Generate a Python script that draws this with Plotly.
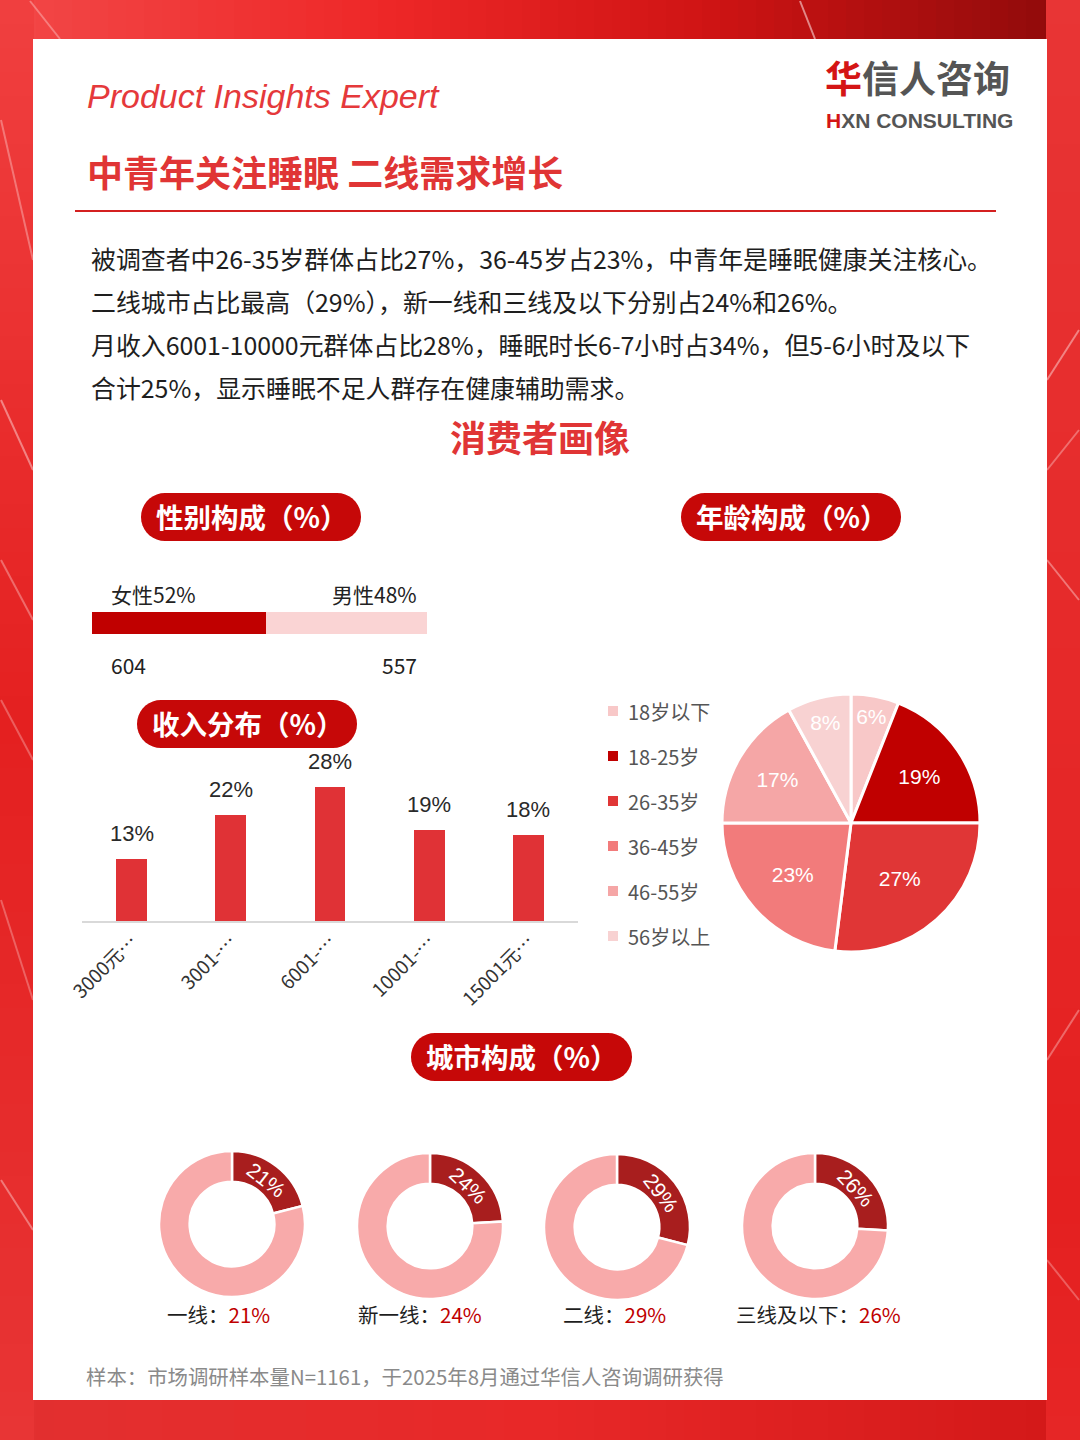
import math
import plotly.graph_objects as go

W, H = 1080, 1440

# ---------------- data ----------------
gender_labels = ["女性", "男性"]
gender_pct = [52, 48]
gender_count = [604, 557]
gender_colors = ["#C00000", "#FAD4D4"]

income_categories = ["3000元及以下", "3001-6000元", "6001-10000元", "10001-15000元", "15001元及以上"]
income_ticks = ["3000元…", "3001-…", "6001-…", "10001-…", "15001元…"]
income_pct = [13, 22, 28, 19, 18]

age_labels = ["18岁以下", "18-25岁", "26-35岁", "36-45岁", "46-55岁", "56岁以上"]
age_pct = [6, 19, 27, 23, 17, 8]
age_colors = ["#F8C8C8", "#C00000", "#E03636", "#F27B7B", "#F5A6A6", "#F8D2D2"]

city_labels = ["一线", "新一线", "二线", "三线及以下"]
city_pct = [21, 24, 29, 26]
city_centers = [(232, 1224), (430, 1226), (617, 1227), (815, 1226)]
city_label_x = [218, 420, 614, 818]

summary_lines = [
    "被调查者中26-35岁群体占比27%，36-45岁占23%，中青年是睡眠健康关注核心。",
    "二线城市占比最高（29%），新一线和三线及以下分别占24%和26%。",
    "月收入6001-10000元群体占比28%，睡眠时长6-7小时占34%，但5-6小时及以下",
    "合计25%，显示睡眠不足人群存在健康辅助需求。",
]

CJK = "Noto Sans CJK SC"
NUM = "Liberation Sans Narrow, Liberation Sans, Arial"


def px(x):
    return x / W


def py(y):
    return 1 - y / H


def lerp_color(c1, c2, t):
    a = [int(c1[i:i + 2], 16) for i in (1, 3, 5)]
    b = [int(c2[i:i + 2], 16) for i in (1, 3, 5)]
    return "#%02x%02x%02x" % tuple(int(round(a[k] + (b[k] - a[k]) * t)) for k in range(3))


def gradient(stops, t):
    for (t0, c0), (t1, c1) in zip(stops[:-1], stops[1:]):
        if t0 <= t <= t1:
            return lerp_color(c0, c1, (t - t0) / (t1 - t0) if t1 > t0 else 0)
    return stops[-1][1]


def pill_path(x0, y0, x1, y1, n=18):
    r = (y1 - y0) / 2
    cy = (y0 + y1) / 2
    pts = []
    for i in range(n + 1):
        a = -math.pi / 2 + math.pi * i / n
        pts.append((x1 - r + r * math.cos(a), cy + r * math.sin(a)))
    for i in range(n + 1):
        a = math.pi / 2 + math.pi * i / n
        pts.append((x0 + r + r * math.cos(a), cy + r * math.sin(a)))
    return "M " + " L ".join(f"{px(x):.5f},{py(y):.5f}" for x, y in pts) + " Z"


shapes = []
annotations = []


def rect(x0, y0, x1, y1, color, layer="below", line=None):
    shapes.append(dict(type="rect", xref="paper", yref="paper",
                       x0=px(x0), x1=px(x1), y0=py(y1), y1=py(y0),
                       fillcolor=color, line=line or dict(width=0), layer=layer))


def text(x, y, s, size, color, xanchor="left", family=CJK, bold=False, italic=False, yanchor="middle"):
    annotations.append(dict(x=px(x), y=py(y), xref="paper", yref="paper", text=s,
                            showarrow=False, xanchor=xanchor, yanchor=yanchor,
                            font=dict(size=size, color=color, family=family,
                                      weight="bold" if bold else "normal",
                                      style="italic" if italic else "normal")))


# ---------------- background ----------------
top_stops = [(0, "#F24848"), (0.35, "#EE2828"), (0.65, "#D01414"), (1.0, "#8C0A0A")]
bot_stops = [(0, "#E23030"), (0.5, "#E82828"), (1.0, "#D21818")]
side_stops = [(0, "#F04040"), (0.5, "#E42020"), (1.0, "#E83535")]
N = 60
for i in range(N):
    x0 = W * i / N
    x1 = min(W, W * (i + 1) / N + 0.6)
    t = (i + 0.5) / N
    rect(x0, 0, x1, 40, gradient(top_stops, t))
    rect(x0, 1399, x1, H, gradient(bot_stops, t))
for i in range(N):
    y0 = H * i / N
    y1 = min(H, H * (i + 1) / N + 0.6)
    t = (i + 0.5) / N
    rect(0, y0, 34, y1, gradient(side_stops, t))
    rect(1046, y0, W, y1, gradient(side_stops, 1 - t * 0.6))
streaks = [
    (1, 120, 33, 260, 0.35), (1, 400, 33, 470, 0.45), (1, 560, 33, 620, 0.35),
    (1, 900, 33, 1000, 0.3), (1, 1180, 33, 1230, 0.4), (1, 700, 33, 760, 0.3),
    (1047, 380, 1079, 330, 0.45), (1047, 470, 1079, 430, 0.35), (1047, 560, 1079, 600, 0.4),
    (1047, 1060, 1079, 1010, 0.35), (1047, 1260, 1079, 1300, 0.3),
    (800, 1, 815, 39, 0.55), (30, 1, 60, 39, 0.35),
]
for x0, y0, x1, y1, op in streaks:
    shapes.append(dict(type="line", xref="paper", yref="paper", x0=px(x0), y0=py(y0),
                       x1=px(x1), y1=py(y1), line=dict(color=f"rgba(255,235,235,{op})", width=2),
                       layer="below"))
rect(33, 39, 1047, 1400, "#FFFFFF")

# ---------------- header ----------------
text(85, 96, "Product Insights Expert", 34, "#E5393B", family="Liberation Sans, Arial", italic=True)
text(85, 171, "中青年关注睡眠 二线需求增长", 36, "#E03535", bold=True)
shapes.append(dict(type="line", xref="paper", yref="paper", x0=px(75), x1=px(996),
                   y0=py(211), y1=py(211), line=dict(color="#D42020", width=2), layer="below"))
text(823, 106, "<span style='color:#D41515'>华</span>信人咨询", 37, "#555555", bold=True, yanchor="bottom")
text(824, 107, "<span style='color:#D41515'>H</span>XN CONSULTING", 21, "#555555",
     family="Liberation Sans, Arial", bold=True, yanchor="top")

for i, line in enumerate(summary_lines):
    text(89, 258 + 43 * i, line, 24.9, "#1E1E1E")

text(540, 436, "消费者画像", 36, "#E03535", xanchor="center", bold=True)

# ---------------- pills ----------------
pills = [
    (141, 493, 361, 541, "性别构成（%）"),
    (681, 493, 901, 541, "年龄构成（%）"),
    (137, 700, 357, 748, "收入分布（%）"),
    (411, 1033, 632, 1081, "城市构成（%）"),
]
for x0, y0, x1, y1, label in pills:
    shapes.append(dict(type="path", xref="paper", yref="paper", path=pill_path(x0, y0, x1, y1),
                       fillcolor="#C60808", line=dict(width=0), layer="below"))
    text((x0 + x1) / 2, (y0 + y1) / 2 - 1, label, 27.5, "#FFFFFF", xanchor="center", bold=True)

# ---------------- gender bar ----------------
fig = go.Figure()
for lab, val, col in zip(gender_labels, gender_pct, gender_colors):
    fig.add_trace(go.Bar(x=[val], y=[0], orientation="h", marker=dict(color=col, line=dict(width=0)),
                         width=1, xaxis="x2", yaxis="y2", showlegend=False, hoverinfo="skip", name=lab))
text(109, 594, f"{gender_labels[0]}{gender_pct[0]}%", 21, "#222222")
text(419, 594, f"{gender_labels[1]}{gender_pct[1]}%", 21, "#222222", xanchor="right")
text(109, 665, f"{gender_count[0]}", 21, "#222222")
text(419, 665, f"{gender_count[1]}", 21, "#222222", xanchor="right")

# ---------------- income bars ----------------
fig.add_trace(go.Bar(
    x=income_categories, y=income_pct, width=0.31,
    marker=dict(color="#E03236", line=dict(width=0)),
    xaxis="x3", yaxis="y3", showlegend=False, hoverinfo="skip",
))
for cat, v in zip(income_categories, income_pct):
    annotations.append(dict(x=cat, y=v, xref="x3", yref="y3", text=f"{v}%", showarrow=False,
                            yanchor="bottom", yshift=11,
                            font=dict(size=22, color="#2A2A2A", family=NUM)))

# ---------------- age pie ----------------
fig.add_trace(go.Pie(
    labels=age_labels, values=age_pct, sort=False, direction="clockwise", rotation=0,
    marker=dict(colors=age_colors, line=dict(color="#FFFFFF", width=3)),
    texttemplate="%{value}%", textposition="inside", insidetextorientation="horizontal",
    textfont=dict(size=21, color="#FFFFFF", family=NUM),
    domain=dict(x=[px(722), px(980)], y=[py(952), py(694)]),
    showlegend=False, hoverinfo="skip",
))
for i, (lab, col) in enumerate(zip(age_labels, age_colors)):
    yc = 711 + 45 * i
    rect(608, yc - 5, 618, yc + 5, col, layer="above")
    text(626, yc, lab, 20, "#555555")

# ---------------- city donuts ----------------
R = 73
for lab, val, (cx, cy), lx in zip(city_labels, city_pct, city_centers, city_label_x):
    fig.add_trace(go.Pie(
        values=[val, 100 - val], labels=[lab, "其他"], sort=False, direction="clockwise", rotation=0,
        hole=0.58,
        marker=dict(colors=["#A81E1E", "#F8AAAA"], line=dict(color="#FFFFFF", width=2.5)),
        text=[f"{val}%", ""], texttemplate="%{text}", textposition="inside",
        insidetextorientation="tangential",
        textfont=dict(size=21, color="#FFFFFF", family="Liberation Sans, Arial"),
        domain=dict(x=[px(cx - R), px(cx + R)], y=[py(cy + R), py(cy - R)]),
        showlegend=False, hoverinfo="skip",
    ))
    text(lx, 1314, f"{lab}：<span style='color:#C00000'>{val}%</span>", 20.5, "#1E1E1E",
         xanchor="center")

# ---------------- footer ----------------
text(84, 1376, "样本：市场调研样本量N=1161，于2025年8月通过华信人咨询调研获得", 20.4, "#8A8A8A")

fig.update_layout(
    width=W, height=H, margin=dict(l=0, r=0, t=0, b=0, pad=0, autoexpand=False),
    paper_bgcolor="#E42222", plot_bgcolor="rgba(0,0,0,0)",
    barmode="stack", bargap=0,
    shapes=shapes, annotations=annotations,
    xaxis2=dict(domain=[px(92), px(427)], range=[0, 100], visible=False, fixedrange=True,
                automargin=False),
    yaxis2=dict(domain=[py(634), py(612)], range=[-0.5, 0.5], visible=False, anchor="x2",
                automargin=False),
    xaxis3=dict(domain=[px(82), px(578)], range=[-0.5, 4.5], anchor="y3", automargin=False,
                showline=True, linecolor="#D9D9D9", linewidth=1.5, showgrid=False, zeroline=False,
                ticks="", tickangle=-45, tickvals=income_categories, ticktext=income_ticks,
                tickfont=dict(size=19, color="#333333", family=CJK)),
    yaxis3=dict(domain=[py(921), py(777)], range=[0, 30], visible=False, anchor="x3",
                automargin=False),
    xaxis=dict(visible=False, automargin=False), yaxis=dict(visible=False, automargin=False),
)

fig.write_html("out.html")
